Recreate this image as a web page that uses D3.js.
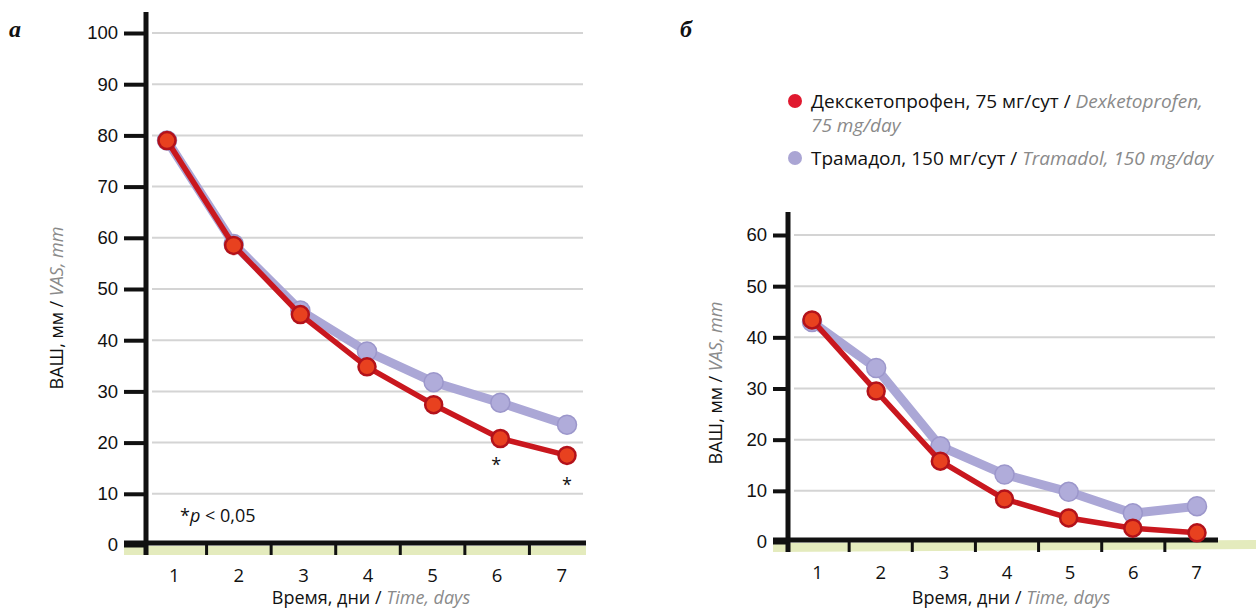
<!DOCTYPE html>
<html>
<head>
<meta charset="utf-8">
<script src="https://cdn.jsdelivr.net/npm/d3@7"></script>
<style>
	body { margin: 0; background: #fff; }
	svg { display: block; font-family: "Open Sans", "Noto Sans", sans-serif; }
	.tick-label { font-size: 18.5px; fill: #111; }
	.grid { stroke: #d4d4d4; stroke-width: 2; }
	.en { fill: #8a8a8a; font-style: italic; }
</style>
</head>
<body>
<div id="container"></div>
<script>
// data
var days = [1, 2, 3, 4, 5, 6, 7];

var dexLeft = [79, 58.5, 45, 34.8, 27.4, 20.8, 17.5];
var traLeft = [79, 58.8, 45.8, 37.8, 31.8, 27.8, 23.5];
var ticksLeft = [0, 10, 20, 30, 40, 50, 60, 70, 80, 90, 100];

var dexRight = [43.4, 29.5, 15.8, 8.4, 4.7, 2.7, 1.8];
var traRight = [43, 34, 18.7, 13.2, 9.8, 5.6, 7];
var ticksRight = [0, 10, 20, 30, 40, 50, 60];

var sigDays = [6, 7];

var legendRu = ["Декскетопрофен, 75 мг/сут / ", "Трамадол, 150 мг/сут / "];
var legendEn = ["Dexketoprofen,", "Tramadol, 150 mg/day"];
var legendColors = ["#e0192f", "#aaa5d4"];

var red = "#c9171e", redFill = "#e8411f", lilac = "#aba7d6";

var svg = d3.select("#container")
	.append("svg")
	.attr("width", 1256)
	.attr("height", 608);

function panel(o) {
	var g = svg.append("g");

	var y = d3.scaleLinear().domain([0, o.ymax]).range([o.y0, o.ytop]);
	var x = d3.scaleLinear().domain([1, 7]).range([o.px1, o.px7]);
	var band = d3.scaleBand().domain(days).range([o.b0, o.b1]);

	// gridlines
	g.selectAll(".grid").data(o.ticks.filter(function(d) { return d > 0; }))
		.enter().append("line")
		.attr("class", "grid")
		.attr("x1", o.ax + 6).attr("x2", o.gridEnd)
		.attr("y1", function(d) { return y(d); })
		.attr("y2", function(d) { return y(d); });

	// green band under x axis
	g.append("path")
		.attr("d", "M" + o.left + "," + (y(0) + 1) + "L" + o.bandEnd + "," + (y(0) + 1 - o.slant) +
			"L" + o.bandEnd + "," + (y(0) + 10 - o.slant) + "L" + o.left + "," + (y(0) + 10) + "Z")
		.attr("fill", "#e4ebbd");

	// y axis
	var yAxis = g.append("g")
		.attr("transform", "translate(" + o.ax + ",0)")
		.call(d3.axisLeft(y).tickValues(o.ticks).tickSize(o.ax - o.left).tickPadding(6));
	yAxis.select(".domain").remove();
	yAxis.selectAll(".tick line").attr("stroke", "#111").attr("stroke-width", 4);
	yAxis.selectAll(".tick text").attr("class", "tick-label").attr("font-family", null).attr("font-size", null);

	g.append("line")
		.attr("x1", o.ax).attr("x2", o.ax)
		.attr("y1", o.axTop).attr("y2", y(0) + 10)
		.attr("stroke", "#111").attr("stroke-width", 5);

	// x axis
	g.append("line")
		.attr("x1", o.left).attr("x2", o.axisEnd)
		.attr("y1", y(0) - 2).attr("y2", y(0) - 2)
		.attr("stroke", "#111").attr("stroke-width", 5);

	g.selectAll(".xtick").data(days.slice(1))
		.enter().append("line")
		.attr("x1", function(d) { return band(d); })
		.attr("x2", function(d) { return band(d); })
		.attr("y1", y(0)).attr("y2", y(0) + 10)
		.attr("stroke", "#111").attr("stroke-width", 3);

	g.selectAll(".xlab").data(days)
		.enter().append("text")
		.attr("class", "tick-label")
		.attr("x", function(d) { return band(d) + band.bandwidth() / 2; })
		.attr("y", y(0) + 37)
		.attr("text-anchor", "middle")
		.text(function(d) { return d; });

	// axis titles
	var xt = g.append("text")
		.attr("x", o.xtX).attr("y", 604)
		.attr("text-anchor", "middle")
		.attr("font-size", 18).attr("fill", "#111");
	xt.append("tspan").text("Время, дни / ");
	xt.append("tspan").attr("class", "en").text("Time, days");

	var yt = g.append("text")
		.attr("transform", "translate(" + o.ytX + "," + o.ytY + ") rotate(-90)")
		.attr("text-anchor", "middle")
		.attr("font-size", 18).attr("fill", "#111");
	yt.append("tspan").text("ВАШ, мм / ");
	yt.append("tspan").attr("class", "en").text("VAS, mm");

	// panel letter
	g.append("text")
		.attr("x", o.letterX).attr("y", 37)
		.attr("font-family", "Liberation Serif, DejaVu Serif, serif")
		.attr("font-weight", "bold").attr("font-style", "italic")
		.attr("font-size", 24).attr("fill", "#111")
		.text(o.letter);

	var line = d3.line()
		.x(function(d, i) { return x(days[i]); })
		.y(function(d) { return y(d); });

	// tramadol
	g.append("path")
		.datum(o.tra)
		.attr("d", line)
		.attr("fill", "none")
		.attr("stroke", lilac)
		.attr("stroke-width", 9)
		.attr("stroke-linejoin", "round");
	g.selectAll(".tra").data(o.tra)
		.enter().append("circle")
		.attr("cx", function(d, i) { return x(days[i]); })
		.attr("cy", function(d) { return y(d); })
		.attr("r", 9.5)
		.attr("fill", "#b0acda")
		.attr("stroke", "#9c97cb")
		.attr("stroke-width", 1.5);

	// dexketoprofen
	g.append("path")
		.datum(o.dex)
		.attr("d", line)
		.attr("fill", "none")
		.attr("stroke", red)
		.attr("stroke-width", 5.5)
		.attr("stroke-linejoin", "round");
	g.selectAll(".dex").data(o.dex)
		.enter().append("circle")
		.attr("cx", function(d, i) { return x(days[i]); })
		.attr("cy", function(d) { return y(d); })
		.attr("r", 8.5)
		.attr("fill", redFill)
		.attr("stroke", "#b3121a")
		.attr("stroke-width", 2.5);

	return { x: x, y: y, g: g };
}

var L = panel({
	ymax: 100, y0: 545, ytop: 33, ticks: ticksLeft,
	px1: 167, px7: 567, b0: 142, b1: 594,
	ax: 146, axTop: 12, left: 124, gridEnd: 583, axisEnd: 586, bandEnd: 586, slant: 0,
	dex: dexLeft, tra: traLeft,
	xtX: 371, ytX: 63, ytY: 308, letter: "а", letterX: 9
});

var R = panel({
	ymax: 60, y0: 542, ytop: 235, ticks: ticksRight,
	px1: 812, px7: 1197, b0: 786, b1: 1228,
	ax: 788, axTop: 212, left: 773, gridEnd: 1215, axisEnd: 1218, bandEnd: 1256, slant: 3,
	dex: dexRight, tra: traRight,
	xtX: 1011, ytX: 722, ytY: 383, letter: "б", letterX: 680
});

// significance marks
L.g.selectAll(".sig").data(sigDays)
	.enter().append("text")
	.attr("x", function(d) { return L.x(d) - (d === 6 ? 4 : 0); })
	.attr("y", function(d, i) { return L.y(dexLeft[d - 1]) + (i === 0 ? 32 : 36); })
	.attr("text-anchor", "middle")
	.attr("font-size", 18).attr("fill", "#111")
	.text("*");

var pt = L.g.append("text")
	.attr("x", 180).attr("y", 522)
	.attr("font-size", 18).attr("fill", "#111");
pt.append("tspan").text("*");
pt.append("tspan").attr("font-style", "italic").text("p");
pt.append("tspan").text(" < 0,05");

// legend
var lg = svg.append("g").attr("transform", "translate(795,0)");
var lgY = [101, 158];
lg.selectAll("circle").data(legendColors)
	.enter().append("circle")
	.attr("cx", 0)
	.attr("cy", function(d, i) { return lgY[i]; })
	.attr("r", 7)
	.attr("fill", function(d) { return d; });

lg.selectAll(".lt").data(legendRu)
	.enter().append("text")
	.attr("x", 16)
	.attr("y", function(d, i) { return lgY[i] + 7; })
	.attr("font-size", 19).attr("fill", "#111")
	.each(function(d, i) {
		d3.select(this).append("tspan").text(d);
		d3.select(this).append("tspan").attr("class", "en").text(legendEn[i]);
	});

lg.append("text")
	.attr("x", 16).attr("y", lgY[0] + 31)
	.attr("font-size", 19).attr("class", "en")
	.text("75 mg/day");
</script>
</body>
</html>
